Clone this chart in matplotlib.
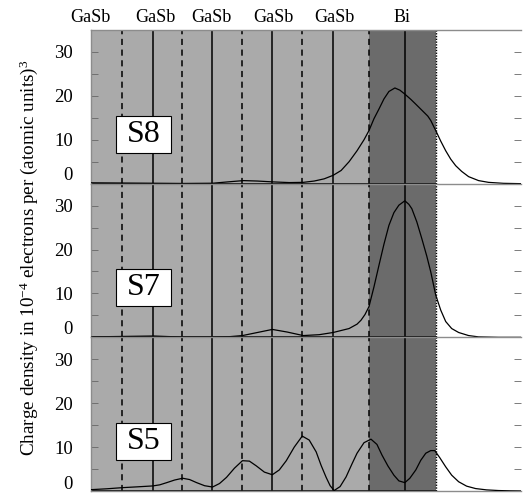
import matplotlib
matplotlib.use('Agg')
import matplotlib.pyplot as plt
from matplotlib.patches import Rectangle

plt.rcParams['font.family'] = 'Liberation Serif'
plt.rcParams['mathtext.fontset'] = 'custom'
plt.rcParams['mathtext.rm'] = 'Liberation Serif'
plt.rcParams['mathtext.it'] = 'Liberation Serif:italic'

# layer geometry (distance along growth axis, arbitrary units)
dashed_pos = [31, 91.7, 151.7, 212, 279]
solid_pos = [62.7, 121.7, 182, 243, 315]
edge_pos = 346
bi_start = 279
layer_names = ['GaSb', 'GaSb', 'GaSb', 'GaSb', 'GaSb', 'Bi']
layer_label_x = [-1, 65, 121, 183, 244, 312]

# charge density curves (10^-4 e / a.u.^3)
x_s8 = [0, 31, 63, 92, 122, 137, 153, 167, 183, 199, 213, 224, 234, 243, 251, 259, 267, 274, 279, 284,
        289, 294, 299, 305, 310, 315, 321, 326, 330, 334, 338, 341, 344, 346, 351, 356, 361, 366, 372, 379,
        389, 399, 414, 432]
y_s8 = [0.2, 0.15, 0.1, 0.05, 0.1, 0.4, 0.7, 0.6, 0.4, 0.25, 0.3, 0.6, 1.1, 1.9, 3.0, 5.0, 7.5, 10.0, 12.1, 14.8,
        17.0, 19.3, 21.0, 21.8, 21.3, 20.4, 19.2, 18.1, 17.2, 16.3, 15.4, 14.4, 13.0, 12.1, 9.7, 7.5, 5.6, 4.1, 2.8, 1.6,
        0.7, 0.3, 0.08, 0.0]

x_s7 = [0, 31, 63, 92, 122, 139, 152, 167, 182, 197, 213, 229, 243, 259, 267, 271, 275, 279, 284, 289,
        294, 299, 304, 309, 315, 319, 322, 327, 332, 337, 341, 346, 351, 356, 362, 369, 379, 389, 409, 432]
y_s7 = [0.1, 0.2, 0.3, 0.05, 0.05, 0.15, 0.4, 1.1, 1.8, 1.2, 0.4, 0.6, 1.1, 2.0, 3.0, 3.9, 5.2, 7.0, 11.5, 16.4,
        21.2, 25.5, 28.4, 30.1, 31.1, 30.3, 29.3, 26.3, 22.5, 18.5, 14.9, 9.6, 6.2, 3.6, 2.0, 1.1, 0.4, 0.1, 0.0, 0.0]

x_s5 = [0, 16, 31, 47, 62, 69, 76, 84, 92, 99, 106, 114, 122, 129, 136, 144, 152, 159, 166, 174,
        182, 189, 196, 204, 212, 219, 226, 231, 236, 240, 244, 250, 256, 262, 267, 274, 281, 287, 292, 298,
        304, 309, 315, 320, 326, 331, 336, 341, 345, 350, 356, 362, 369, 377, 386, 397, 409, 421, 432]
y_s5 = [0.3, 0.5, 0.75, 0.95, 1.15, 1.4, 1.9, 2.5, 2.9, 2.6, 1.9, 1.2, 0.9, 1.7, 3.1, 5.2, 6.9, 6.8, 5.7, 4.3,
        3.7, 4.8, 6.9, 10.0, 12.5, 11.6, 8.9, 5.8, 3.1, 1.2, 0.1, 1.0, 3.2, 6.2, 8.6, 11.0, 11.8, 10.6, 8.2, 5.7,
        3.6, 2.3, 1.9, 2.9, 4.8, 7.0, 8.6, 9.2, 9.2, 7.6, 5.5, 3.6, 2.1, 1.1, 0.55, 0.25, 0.1, 0.03, 0.0]

panels = [('S8', x_s8, y_s8), ('S7', x_s7, y_s7), ('S5', x_s5, y_s5)]
yticks_major = [0, 10, 20, 30]
yticks_minor = [5, 15, 25]

fig = plt.figure(figsize=(5.23, 4.93), dpi=100)
gs = fig.add_gridspec(3, 1, left=0.174, right=0.997, bottom=0.0041, top=0.9391, hspace=0)

for i, (name, xs, ys) in enumerate(panels):
    ax = fig.add_subplot(gs[i])
    ax.set_xlim(0, 432)
    ax.set_ylim(0, 35)
    ax.axvspan(0, edge_pos, color='#aaaaaa', lw=0, zorder=0)
    ax.axvspan(bi_start, edge_pos, color='#6b6b6b', lw=0, zorder=0)
    for p in dashed_pos:
        ax.axvline(p, color='black', lw=1.1, ls=(0, (4, 3)), zorder=1)
    for p in solid_pos:
        ax.axvline(p, color='black', lw=1.1, zorder=1)
    ax.axvline(edge_pos, color='black', lw=1.0, ls=(0, (1, 1)), zorder=1)
    ax.axhline(0, xmax=edge_pos / 432, color='black', lw=1.2, zorder=2)
    ax.plot(xs, ys, color='black', lw=0.9, zorder=3)

    # label box
    ax.add_patch(Rectangle((25, 7.1), 55, 8.4, facecolor='white', edgecolor='black', lw=0.8, zorder=4))
    ax.text(52.5, 11.3, name, fontsize=23, ha='center', va='center', zorder=5)

    for sp in ax.spines.values():
        sp.set_color('0.55')
        sp.set_linewidth(1.0)
    ax.spines['right'].set_visible(False)
    ax.spines['bottom'].set_visible(i == 2)
    ax.set_xticks([])
    ax.set_yticks(yticks_major)
    ax.set_yticks(yticks_minor, minor=True)
    ax.set_yticklabels(['', '10', '20', '30'])
    ax.tick_params(axis='y', which='both', direction='in', length=5, width=0.6,
                   color='0.4', labelsize=13.5, pad=13, right=True)
    off = 8 if i < 2 else 6
    ax.annotate('0', xy=(0, 0), xycoords=('axes fraction', 'data'), xytext=(-18, off),
                textcoords='offset pixels', ha='right', va='center', fontsize=13.5,
                annotation_clip=False)
    if i == 0:
        for lx, ln in zip(layer_label_x, layer_names):
            ax.annotate(ln, xy=(lx, 35), xycoords='data', xytext=(0, 13),
                        textcoords='offset pixels', ha='center', va='center', fontsize=13,
                        annotation_clip=False)

fig.text(0.055, 1 - 258 / 493, r'Charge density in 10$^{-4}$ electrons per (atomic units)$^3$',
         rotation=90, ha='center', va='center', fontsize=13.8)

fig.savefig('out.png', dpi=100)
